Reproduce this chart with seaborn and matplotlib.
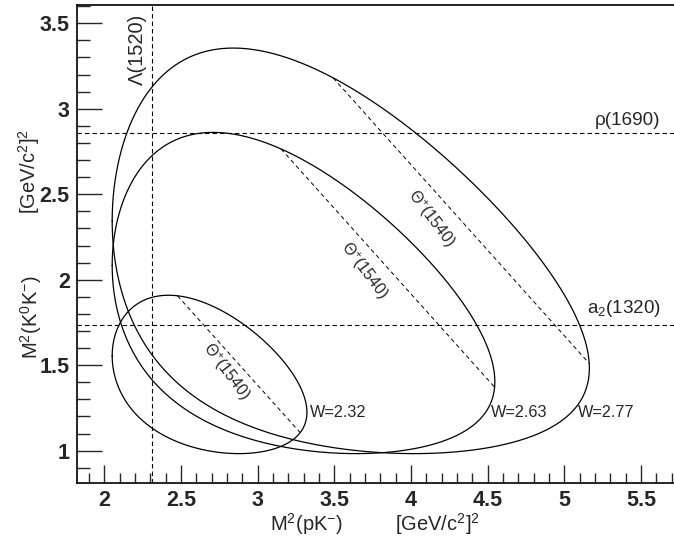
import numpy as np
import pandas as pd
import matplotlib
matplotlib.use("Agg")
import matplotlib.pyplot as plt
from matplotlib.ticker import MultipleLocator, FuncFormatter
import seaborn as sns

# ---- data ----
W_values = [2.32, 2.63, 2.77]            # total CM energy (GeV)
W_labels = ["W=2.32", "W=2.63", "W=2.77"]
m_p, m_K0, m_Km = 0.93827, 0.49761, 0.49368   # particle masses (GeV)
M_theta = 1.540      # Theta+(1540)
M_lambda = 1.520     # Lambda(1520)  -> vertical line
M_rho = 1.690        # rho(1690)     -> horizontal line
M_a2 = 1.318         # a2(1320)      -> horizontal line
x_ticks = [2, 2.5, 3, 3.5, 4, 4.5, 5, 5.5]
y_ticks = [1, 1.5, 2, 2.5, 3, 3.5]

sns.set_theme(style="ticks")
plt.rcParams["font.family"] = ["Liberation Sans", "DejaVu Sans"]
plt.rcParams["mathtext.fontset"] = "custom"
plt.rcParams["mathtext.rm"] = "Liberation Sans"
plt.rcParams["mathtext.it"] = "Liberation Sans"
plt.rcParams["mathtext.bf"] = "Liberation Sans:bold"
plt.rcParams["lines.scale_dashes"] = False


def dalitz(W, n=1500):
    m1, m2, m3 = m_p, m_Km, m_K0
    lo, hi = (m1 + m2) ** 2, (W - m3) ** 2
    t = np.linspace(0, np.pi, n)
    x = lo + (hi - lo) * (1 - np.cos(t)) / 2
    m12 = np.sqrt(x)
    E2 = (x - m1 ** 2 + m2 ** 2) / (2 * m12)
    E3 = (W ** 2 - x - m3 ** 2) / (2 * m12)
    p2 = np.sqrt(np.clip(E2 ** 2 - m2 ** 2, 0, None))
    p3 = np.sqrt(np.clip(E3 ** 2 - m3 ** 2, 0, None))
    ymin = (E2 + E3) ** 2 - (p2 + p3) ** 2
    ymax = (E2 + E3) ** 2 - (p2 - p3) ** 2
    return x, ymin, ymax


fig = plt.figure(figsize=(6.74, 5.4), dpi=100)
ax = fig.add_axes([0.1138, 0.1061, 0.8862, 0.8846])

xmin_l, xmax_l = 1.819, 5.716
ymin_l, ymax_l = 0.8125, 3.607

sumsq = m_p ** 2 + m_K0 ** 2 + m_Km ** 2
for W in W_values:
    x, lo, hi = dalitz(W)
    cx = np.concatenate([x, x[::-1], x[:1]])
    cy = np.concatenate([hi, lo[::-1], hi[:1]])
    df = pd.DataFrame({"x": cx, "y": cy})
    sns.lineplot(data=df, x="x", y="y", sort=False, estimator=None,
                 color="black", lw=0.9, ax=ax)
    # Theta+ line: M^2(pK0) = M_theta^2
    C = W ** 2 + sumsq - M_theta ** 2
    xx, lo2, hi2 = dalitz(W, n=40000)
    yy = C - xx
    inside = (yy >= lo2) & (yy <= hi2)
    xs = xx[inside]
    tl = pd.DataFrame({"x": [xs.min(), xs.max()], "y": [C - xs.min(), C - xs.max()]})
    sns.lineplot(data=tl, x="x", y="y", sort=False, estimator=None,
                 color="black", lw=0.7, ax=ax, linestyle=(0, (3.0, 2.4)))

# resonance bands
ax.axvline(M_lambda ** 2, color="black", lw=0.8, linestyle=(0, (3.2, 2.2)))
ax.axhline(M_rho ** 2, color="black", lw=0.8, linestyle=(0, (3.2, 2.2)))
ax.axhline(M_a2 ** 2, color="black", lw=0.8, linestyle=(0, (3.2, 2.2)))

ax.set_xlim(xmin_l, xmax_l)
ax.set_ylim(ymin_l, ymax_l)
ax.set_xlabel("")
ax.set_ylabel("")

ax.set_xticks(x_ticks)
ax.set_yticks(y_ticks)
ax.xaxis.set_minor_locator(MultipleLocator(0.1))
ax.yaxis.set_minor_locator(MultipleLocator(0.1))
fmt = FuncFormatter(lambda v, p: "%g" % v)
ax.xaxis.set_major_formatter(fmt)
ax.yaxis.set_major_formatter(fmt)
ax.tick_params(axis="x", which="major", direction="in", length=13, width=1.0,
               labelsize=15.5, pad=5, top=False)
ax.tick_params(axis="x", which="minor", direction="in", length=7, width=1.0, top=False)
ax.tick_params(axis="y", which="major", direction="in", length=18, width=1.0,
               labelsize=15.5, pad=5, right=False)
ax.tick_params(axis="y", which="minor", direction="in", length=9, width=1.0, right=False)
for lab in ax.get_xticklabels() + ax.get_yticklabels():
    lab.set_fontweight("bold")

for s in ["left", "bottom", "top"]:
    ax.spines[s].set_linewidth(1.2)
    ax.spines[s].set_color("black")
ax.spines["right"].set_visible(False)

# annotations
ax.text(2.213, 3.35, "Λ(1520)", rotation=90, ha="center", va="center", fontsize=14.5)
ax.text(5.20, 2.904, "ρ(1690)", ha="left", va="baseline", fontsize=13.6)
ax.text(5.146, 1.803, "a$_{\\mathrm{2}}$(1320)", ha="left", va="baseline", fontsize=13.6)
for lbl, xl in zip(W_labels, [3.341, 4.52, 5.09]):
    ax.text(xl, 1.225, lbl, ha="left", va="center", fontsize=11.7)
for (tx, ty) in [(2.791, 1.459), (3.693, 2.051), (4.128, 2.354)]:
    ax.text(tx, ty, "$\\Theta^{+}$(1540)", rotation=-53, rotation_mode="anchor",
            ha="center", va="center", fontsize=11.5)

# axis titles
fig.text(270 / 674, 1 - 531 / 540, "M$^{\\mathrm{2}}$(pK$^{-}$)", ha="left",
         va="baseline", fontsize=14.5)
fig.text(395 / 674, 1 - 531 / 540, "[GeV/c$^{\\mathrm{2}}$]$^{\\mathrm{2}}$",
         ha="left", va="baseline", fontsize=14.5)
fig.text(31 / 674, 1 - 317 / 540, "M$^{\\mathrm{2}}$(K$^{\\mathrm{0}}$K$^{-}$)",
         rotation=90, ha="center", va="center", fontsize=14.5)
fig.text(29 / 674, 1 - 171 / 540, "[GeV/c$^{\\mathrm{2}}$]$^{\\mathrm{2}}$",
         rotation=90, ha="center", va="center", fontsize=14.5)

fig.savefig("out.png", dpi=100, facecolor="white")
